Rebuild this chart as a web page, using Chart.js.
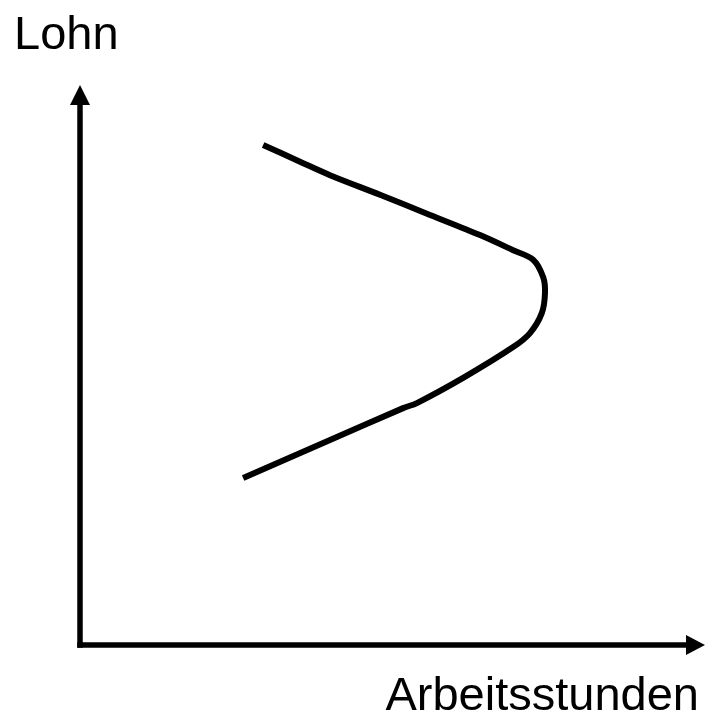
<!DOCTYPE html>
<html>
<head>
<meta charset="utf-8">
<script src="https://cdn.jsdelivr.net/npm/chart.js@4"></script>
<style>
  html, body { margin: 0; padding: 0; background: #fff; }
  #wrap { width: 705px; height: 716px; }
</style>
</head>
<body>
<div id="wrap"><canvas id="chart"></canvas></div>
<script>
// Angebotskurve (rückwärts geneigt)
const stunden = [2.93, 3.52, 4.00, 4.80, 5.60, 6.40, 6.93, 7.25, 7.41, 7.44, 7.39, 7.20, 6.93, 6.13, 5.39, 5.17, 4.00, 2.61];
const lohn = [8.93, 8.63, 8.39, 8.04, 7.68, 7.32, 7.05, 6.88, 6.57, 6.29, 5.93, 5.57, 5.32, 4.77, 4.32, 4.23, 3.66, 2.98];
const xLabel = "Arbeitsstunden";
const yLabel = "Lohn";

const points = stunden.map((x, i) => ({ x: x, y: lohn[i] }));

const axesPlugin = {
  id: "axesPlugin",
  afterDraw(chart) {
    const ctx = chart.ctx;
    const xs = chart.scales.x;
    const ys = chart.scales.y;
    const x0 = xs.getPixelForValue(0);
    const y0 = ys.getPixelForValue(0);
    const xEnd = xs.getPixelForValue(xs.max);
    const yEnd = ys.getPixelForValue(ys.max);

    ctx.save();
    ctx.strokeStyle = "#000";
    ctx.fillStyle = "#000";
    ctx.lineWidth = 5.5;
    ctx.lineCap = "butt";

    ctx.beginPath();
    ctx.moveTo(x0, y0 + 2.75);
    ctx.lineTo(x0, yEnd + 18);
    ctx.stroke();

    ctx.beginPath();
    ctx.moveTo(x0 - 2.75, y0);
    ctx.lineTo(xEnd - 18, y0);
    ctx.stroke();

    // Pfeilspitzen
    ctx.beginPath();
    ctx.moveTo(x0, yEnd);
    ctx.lineTo(x0 - 10, yEnd + 20);
    ctx.lineTo(x0 + 10, yEnd + 20);
    ctx.closePath();
    ctx.fill();

    ctx.beginPath();
    ctx.moveTo(xEnd, y0);
    ctx.lineTo(xEnd - 19, y0 - 10);
    ctx.lineTo(xEnd - 19, y0 + 10);
    ctx.closePath();
    ctx.fill();

    ctx.font = "47px 'Liberation Sans', Arial, sans-serif";
    ctx.textBaseline = "alphabetic";
    ctx.textAlign = "left";
    ctx.fillText(yLabel, 14, 49);
    ctx.textAlign = "right";
    ctx.fillText(xLabel, 699, 710);
    ctx.restore();
  }
};

new Chart(document.getElementById("chart"), {
  type: "scatter",
  data: {
    datasets: [
      {
        data: points,
        showLine: true,
        borderColor: "#000",
        borderWidth: 6,
        borderCapStyle: "butt",
        tension: 0.3,
        pointRadius: 0,
        fill: false
      }
    ]
  },
  options: {
    responsive: true,
    maintainAspectRatio: false,
    animation: false,
    layout: { padding: { left: 80, right: 0, top: 85, bottom: 71 } },
    plugins: {
      legend: { display: false },
      tooltip: { enabled: false }
    },
    scales: {
      x: { type: "linear", min: 0, max: 10, display: false },
      y: { type: "linear", min: 0, max: 10, display: false }
    }
  },
  plugins: [axesPlugin]
});
</script>
</body>
</html>
